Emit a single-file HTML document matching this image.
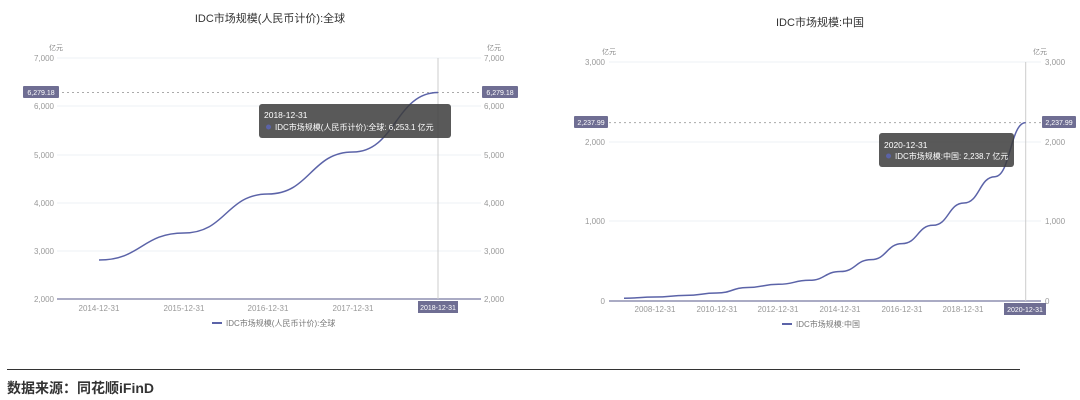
<!DOCTYPE html>
<html><head><meta charset="utf-8"><style>
html,body{margin:0;padding:0;background:#fff;width:1080px;height:400px;overflow:hidden}
svg{display:block}
text{font-family:"Liberation Sans","Noto Sans CJK SC",sans-serif}
</style></head><body>
<svg width="1080" height="400" viewBox="0 0 1080 400" xmlns="http://www.w3.org/2000/svg">
<!-- LEFT CHART -->
<text x="270" y="22" font-size="11" fill="#333" text-anchor="middle">IDC市场规模(人民币计价):全球</text>
<g font-size="7" fill="#888">
<text x="63" y="50" text-anchor="end">亿元</text>
<text x="487" y="50">亿元</text>
</g>
<g stroke="#eef0f4" stroke-width="1">
<line x1="57" y1="58" x2="481" y2="58"/><line x1="57" y1="106" x2="481" y2="106"/>
<line x1="57" y1="155" x2="481" y2="155"/><line x1="57" y1="203" x2="481" y2="203"/>
<line x1="57" y1="251" x2="481" y2="251"/>
</g>
<line x1="57" y1="299" x2="481" y2="299" stroke="#8d8fb0" stroke-width="1.5"/>
<g font-size="8" fill="#999" text-anchor="end">
<text x="54" y="61">7,000</text><text x="54" y="109">6,000</text><text x="54" y="158">5,000</text>
<text x="54" y="206">4,000</text><text x="54" y="254">3,000</text><text x="54" y="302">2,000</text>
</g>
<g font-size="8" fill="#999">
<text x="484" y="61">7,000</text><text x="484" y="109">6,000</text><text x="484" y="158">5,000</text>
<text x="484" y="206">4,000</text><text x="484" y="254">3,000</text><text x="484" y="302">2,000</text>
</g>
<g font-size="8" fill="#999" text-anchor="middle">
<text x="99" y="311">2014-12-31</text><text x="184" y="311">2015-12-31</text>
<text x="268" y="311">2016-12-31</text><text x="353" y="311">2017-12-31</text>
</g>
<line x1="438" y1="58" x2="438" y2="299" stroke="#ccc" stroke-width="1"/>
<line x1="57" y1="92.5" x2="481" y2="92.5" stroke="#aaa" stroke-width="1" stroke-dasharray="2,3"/>
<path d="M99,260 C141,260 142,233 184,233 C226,233 226,194 268,194 C310,194 311,152 353,152 C395,152 396,92.5 438,92.5" fill="none" stroke="#5b63a8" stroke-width="1.5"/>
<rect x="23" y="86" width="36" height="12" fill="#6f6e93" rx="1"/>
<text x="41" y="95" font-size="7" fill="#fff" text-anchor="middle">6,279.18</text>
<rect x="482" y="86" width="36" height="12" fill="#6f6e93" rx="1"/>
<text x="500" y="95" font-size="7" fill="#fff" text-anchor="middle">6,279.18</text>
<rect x="418" y="301" width="40" height="12" fill="#6f6e93"/>
<text x="438" y="310" font-size="7" fill="#fff" text-anchor="middle">2018-12-31</text>
<rect x="259" y="104" width="192" height="34" rx="3" fill="rgba(60,60,60,0.85)"/>
<text x="264" y="118" font-size="8.5" fill="#fff">2018-12-31</text>
<circle cx="268.5" cy="127" r="2.5" fill="#5b63a8"/>
<text x="275" y="130" font-size="8" fill="#fff">IDC市场规模(人民币计价):全球:  6,253.1 亿元</text>
<line x1="212" y1="323" x2="222" y2="323" stroke="#5b63a8" stroke-width="2"/>
<text x="226" y="326" font-size="8" fill="#777">IDC市场规模(人民币计价):全球</text>

<!-- RIGHT CHART -->
<text x="820" y="26" font-size="11" fill="#333" text-anchor="middle">IDC市场规模:中国</text>
<g font-size="7" fill="#888">
<text x="609" y="54" text-anchor="middle">亿元</text>
<text x="1040" y="54" text-anchor="middle">亿元</text>
</g>
<g stroke="#eef0f4" stroke-width="1">
<line x1="609" y1="62" x2="1041" y2="62"/><line x1="609" y1="142" x2="1041" y2="142"/>
<line x1="609" y1="221" x2="1041" y2="221"/>
</g>
<line x1="609" y1="301" x2="1041" y2="301" stroke="#8d8fb0" stroke-width="1.5"/>
<g font-size="8" fill="#999" text-anchor="end">
<text x="605" y="65">3,000</text><text x="605" y="145">2,000</text><text x="605" y="224">1,000</text><text x="605" y="304">0</text>
</g>
<g font-size="8" fill="#999">
<text x="1045" y="65">3,000</text><text x="1045" y="145">2,000</text><text x="1045" y="224">1,000</text><text x="1045" y="304">0</text>
</g>
<g font-size="8" fill="#999" text-anchor="middle">
<text x="655" y="312">2008-12-31</text><text x="717" y="312">2010-12-31</text><text x="778" y="312">2012-12-31</text>
<text x="840" y="312">2014-12-31</text><text x="902" y="312">2016-12-31</text><text x="963" y="312">2018-12-31</text>
</g>
<line x1="1025.7" y1="62" x2="1025.7" y2="301" stroke="#ccc" stroke-width="1"/>
<line x1="609" y1="122.6" x2="1041" y2="122.6" stroke="#aaa" stroke-width="1" stroke-dasharray="2,3"/>
<path d="M624,298.2 C639.5,298.2 639.5,297 654.9,297 C670.4,297 670.4,295.4 685.8,295.4 C701.3,295.4 701.3,293 716.7,293 C732.2,293 732.2,287.5 747.6,287.5 C763.1,287.5 763.1,284.3 778.5,284.3 C794,284.3 794,280.3 809.4,280.3 C824.9,280.3 824.9,271.5 840.3,271.5 C855.8,271.5 855.8,259.6 871.2,259.6 C886.7,259.6 886.7,243.6 902.1,243.6 C917.6,243.6 917.6,225.3 933,225.3 C948.5,225.3 948.5,203 963.9,203 C979.4,203 979.4,176.7 994.8,176.7 C1010.3,176.7 1010.3,122.6 1025.7,122.6" fill="none" stroke="#5b63a8" stroke-width="1.5"/>
<rect x="574" y="116" width="34" height="12" fill="#6f6e93" rx="1"/>
<text x="591" y="125" font-size="7" fill="#fff" text-anchor="middle">2,237.99</text>
<rect x="1042" y="116" width="34" height="12" fill="#6f6e93" rx="1"/>
<text x="1059" y="125" font-size="7" fill="#fff" text-anchor="middle">2,237.99</text>
<rect x="1004" y="303" width="42" height="12" fill="#6f6e93"/>
<text x="1025" y="312" font-size="7" fill="#fff" text-anchor="middle">2020-12-31</text>
<rect x="879" y="133" width="135" height="34" rx="3" fill="rgba(60,60,60,0.85)"/>
<text x="884" y="148" font-size="8.5" fill="#fff">2020-12-31</text>
<circle cx="888.5" cy="156" r="2.5" fill="#5b63a8"/>
<text x="895" y="159" font-size="8" fill="#fff">IDC市场规模:中国:  2,238.7 亿元</text>
<line x1="782" y1="324" x2="792" y2="324" stroke="#5b63a8" stroke-width="2"/>
<text x="796" y="327" font-size="8" fill="#777">IDC市场规模:中国</text>

<!-- FOOTER -->
<line x1="7" y1="369.5" x2="1020" y2="369.5" stroke="#333" stroke-width="1"/>
<text x="7" y="393" font-size="14" font-weight="bold" fill="#333">数据来源：同花顺iFinD</text>
</svg>
</body></html>
